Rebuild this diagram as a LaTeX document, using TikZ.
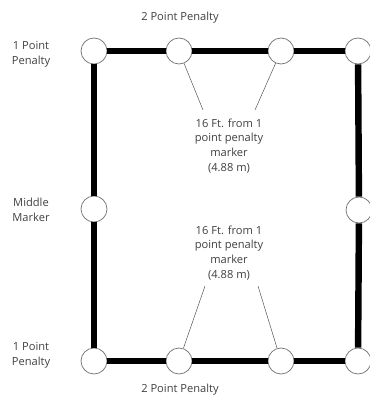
\documentclass[tikz,border=0pt]{standalone}
\usepackage{fontspec}
\setmainfont{Open Sans}
\usepackage{tikz}

\begin{document}
\begin{tikzpicture}[x=0.03cm,y=-0.03cm,
    mnode/.style={draw=black!55,circle,fill=white,minimum size=0.78cm,inner sep=0pt,line width=0.6pt},
    lbl/.style={align=center,font=\fontsize{9.5}{12.6}\selectfont,text=black!75},
    side/.style={line width=5.5pt},
    lead/.style={black!70,line width=0.4pt}]
    \useasboundingbox (0,0) rectangle (370,398);

    % corners and markers
    \node[mnode] (tl) at (94,51) {};
    \node[mnode] (t1) at (179,51) {};
    \node[mnode] (t2) at (281,51) {};
    \node[mnode] (tr) at (358,51) {};
    \node[mnode] (ml) at (94,209) {};
    \node[mnode] (mr) at (359,210) {};
    \node[mnode] (bl) at (94,361) {};
    \node[mnode] (b1) at (179,361) {};
    \node[mnode] (b2) at (281,361) {};
    \node[mnode] (br) at (358,361) {};

    \draw[side] (tl) -- (t1) ;
    \draw[side] (t1) -- (t2) ;
    \draw[side] (t2) -- (tr) ;
    \draw[side] (bl) -- (b1) ;
    \draw[side] (b1) -- (b2) ;
    \draw[side] (b2) -- (br) ;
    \draw[side] (tl) -- (ml) ;
    \draw[side] (ml) -- (bl) ;
    \draw[side] (tr) -- (mr) ;
    \draw[side] (mr) -- (br) ;

    % labels
    \node[lbl] (toplbl) at (180,18) {2 Point Penalty};
    \node[lbl] (botlbl) at (180,390) {2 Point Penalty};
    \node[lbl] (tllbl) at (31,54) {1 Point\\Penalty};
    \node[lbl] (mllbl) at (31,210) {Middle\\Marker};
    \node[lbl] (bllbl) at (31,355) {1 Point\\Penalty};
    \node[lbl] (upper) at (229,146) {16 Ft. from 1\\point penalty\\marker\\(4.88 m)};
    \node[lbl] (lower) at (229,253) {16 Ft. from 1\\point penalty\\marker\\(4.88 m)};

    \coordinate (ua) at (203,110);
    \coordinate (ub) at (255,110);
    \coordinate (la) at (205,286);
    \coordinate (lb) at (258,286);
    \draw[lead] (t1) -- (ua) ;
    \draw[lead] (t2) -- (ub) ;
    \draw[lead] (b1) -- (la) ;
    \draw[lead] (b2) -- (lb) ;
\end{tikzpicture}
\end{document}
